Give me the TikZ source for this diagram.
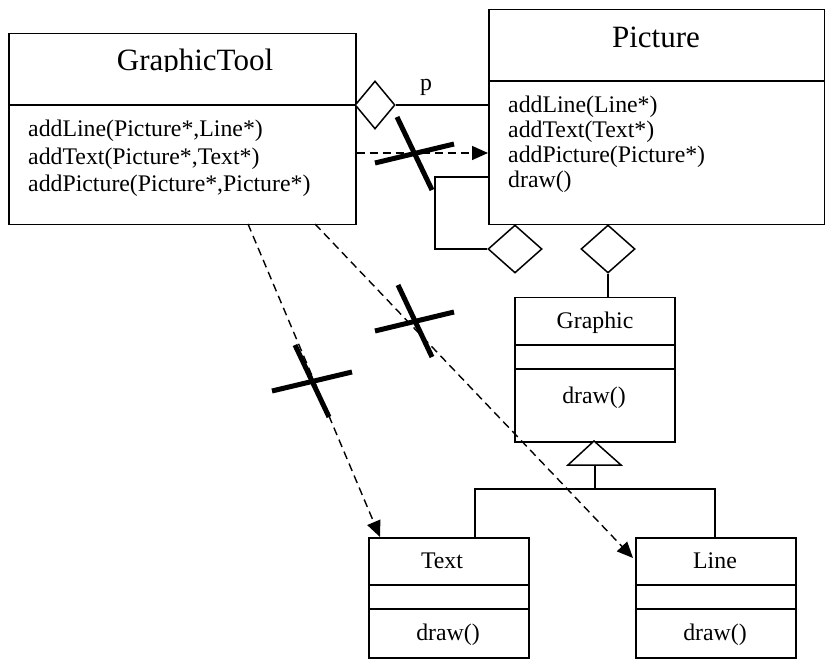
\documentclass[tikz,border=0pt]{standalone}
\usepackage{fontspec}
\setmainfont{Liberation Serif}
\usetikzlibrary{arrows.meta,shapes.geometric}
\begin{document}
\begin{tikzpicture}[x=1pt,y=-1pt,
  umlbox/.style={draw,line width=1.5pt,inner sep=0pt,anchor=north west},
  agg/.style={draw,line width=1.5pt,diamond,inner sep=0pt,fill=white},
  conn/.style={line width=1.5pt},
  dep/.style={line width=1.4pt,dash pattern=on 8pt off 5pt,-{Triangle[length=16pt,width=14pt]}},
  crossbar/.style={line width=5pt},
  big/.style={font=\fontsize{31}{31}\selectfont,inner sep=0pt,anchor=base},
  txt/.style={font=\fontsize{23.8}{23.8}\selectfont,inner sep=0pt,anchor=base west},
  ctxt/.style={font=\fontsize{23.8}{23.8}\selectfont,inner sep=0pt,anchor=base}]
\useasboundingbox (0,0) rectangle (825,660);

% boxes
\node[umlbox,minimum width=347pt,minimum height=191pt] (gt) at (8,33) {};
\node[umlbox,minimum width=336pt,minimum height=215pt] (pic) at (488,9) {};
\node[umlbox,minimum width=160pt,minimum height=144pt] (gr) at (514,297) {};
\node[umlbox,minimum width=160pt,minimum height=120pt] (tx) at (368,537) {};
\node[umlbox,minimum width=160pt,minimum height=120pt] (ln) at (635,537) {};

% separators
\draw[conn] (gt.west |- 0,105) -- (gt.east |- 0,105);
\draw[conn] (pic.west |- 0,81) -- (pic.east |- 0,81);
\draw[conn] (gr.west |- 0,345) -- (gr.east |- 0,345);
\draw[conn] (gr.west |- 0,369) -- (gr.east |- 0,369);
\draw[conn] (tx.west |- 0,585) -- (tx.east |- 0,585);
\draw[conn] (tx.west |- 0,609) -- (tx.east |- 0,609);
\draw[conn] (ln.west |- 0,585) -- (ln.east |- 0,585);
\draw[conn] (ln.west |- 0,609) -- (ln.east |- 0,609);

% texts
\begin{scope}
  \clip (8,33) rectangle (355,72);
  \node[big] (gtt) at (195,71) {GraphicTool};
\end{scope}
\node[txt] (gt1) at (28,137) {addLine(Picture*,Line*)};
\node[txt] (gt2) at (28,165) {addText(Picture*,Text*)};
\node[txt] (gt3) at (28,192) {addPicture(Picture*,Picture*)};

\node[big] (pict) at (656,48) {Picture};
\node[txt] (p1) at (508,113) {addLine(Line*)};
\node[txt] (p2) at (508,138) {addText(Text*)};
\node[txt] (p3) at (508,163) {addPicture(Picture*)};
\node[txt] (p4) at (508,188) {draw()};

\node[ctxt] (grt) at (595,329) {Graphic};
\node[ctxt] (grd) at (594,403) {draw()};
\node[ctxt] (txt1) at (442,568) {Text};
\node[ctxt] (txd) at (448,640) {draw()};
\node[ctxt] (lnt) at (715,568) {Line};
\node[ctxt] (lnd) at (715,640) {draw()};

% aggregation GraphicTool -> Picture
\node[agg,minimum width=40pt,minimum height=48pt] (d1) at (375,105) {};
\draw[conn] (d1.east) -- (pic.west |- d1.east);
\node[ctxt] (plab) at (426,91) {p};

% self aggregation of Picture
\node[agg,minimum width=54pt,minimum height=48pt] (d2) at (515,249) {};
\coordinate (s1) at (pic.west |- 0,177);
\draw[conn] (s1) -- (435,177) -- (435,249) -- (d2.west);

% aggregation Picture -> Graphic
\node[agg,minimum width=54pt,minimum height=48pt] (d3) at (608,249) {};
\draw[conn] (d3.south) -- (d3.south |- gr.north);

% inheritance
\coordinate (apex) at (594,441);
\draw[conn,fill=white] (apex) -- (621,465) -- (568,465) -- cycle;
\coordinate (tb) at (595,465);
\coordinate (tj) at (595,489);
\draw[conn] (tb) -- (tj);
\draw[conn] (tx.north -| 475,0) -- (475,489) -- (715,489) -- (ln.north -| 715,0);

% dependencies
\coordinate (a1s) at (gt.east |- 0,153);
\coordinate (a1e) at (pic.west |- 0,153);
\draw[dep] (a1s) -- (a1e);
\coordinate (a2s) at (248,224);
\coordinate (a2e) at (380,537);
\draw[dep] (a2s) -- (a2e);
\coordinate (a3s) at (315,224);
\coordinate (a3e) at (633,558);
\draw[dep] (a3s) -- (a3e);

% crosses
\draw[crossbar] (397,117) -- (432,190);
\draw[crossbar] (375,163) -- (454,144);
\draw[crossbar] (398,285) -- (432,357);
\draw[crossbar] (375,331) -- (454,312);
\draw[crossbar] (295,345) -- (329,417);
\draw[crossbar] (272,391) -- (352,372);
\end{tikzpicture}
\end{document}
